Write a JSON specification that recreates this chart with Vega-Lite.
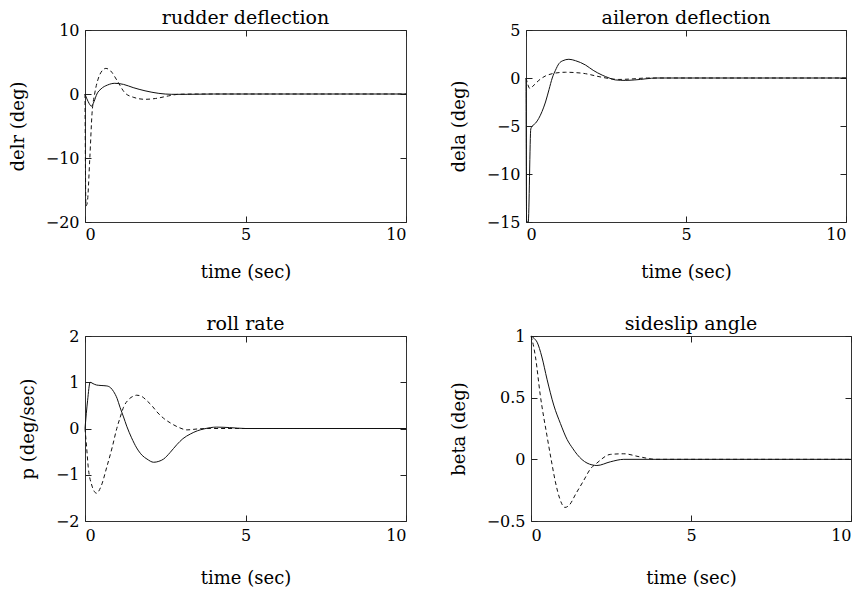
{
  "$schema": "https://vega.github.io/schema/vega-lite/v6.json",
  "background": "white",
  "padding": {"left": 8, "top": 8, "right": 5, "bottom": 0},
  "config": {
    "font": "DejaVu Serif",
    "view": {"stroke": "#333333", "strokeWidth": 1},
    "axis": {
      "grid": false,
      "domain": false,
      "tickSize": 6,
      "offset": -6,
      "tickColor": "#222222",
      "labelFont": "DejaVu Serif",
      "labelFontSize": 16,
      "labelColor": "black",
      "titleFont": "DejaVu Serif",
      "titleFontSize": 18,
      "titleFontWeight": "normal",
      "titleColor": "black"
    },
    "axisX": {"labelPadding": 4, "titlePadding": 21},
    "axisY": {"labelPadding": 6, "titlePadding": 18},
    "title": {"font": "DejaVu Serif", "fontSize": 19, "fontWeight": "normal", "color": "black", "offset": -6}
  },
  "datasets": {
    "d": [
      {"panel": "delr", "series": "a", "t": 0, "v": 0},
      {"panel": "delr", "series": "a", "t": 0.1, "v": -1.2},
      {"panel": "delr", "series": "a", "t": 0.2, "v": -1.9},
      {"panel": "delr", "series": "a", "t": 0.28, "v": -1.2},
      {"panel": "delr", "series": "a", "t": 0.37, "v": 0},
      {"panel": "delr", "series": "a", "t": 0.5, "v": 0.8},
      {"panel": "delr", "series": "a", "t": 0.7, "v": 1.4},
      {"panel": "delr", "series": "a", "t": 0.93, "v": 1.67},
      {"panel": "delr", "series": "a", "t": 1.2, "v": 1.5},
      {"panel": "delr", "series": "a", "t": 1.5, "v": 1.0},
      {"panel": "delr", "series": "a", "t": 1.87, "v": 0.5},
      {"panel": "delr", "series": "a", "t": 2.3, "v": 0.1},
      {"panel": "delr", "series": "a", "t": 2.7, "v": -0.05},
      {"panel": "delr", "series": "a", "t": 3.2, "v": -0.05},
      {"panel": "delr", "series": "a", "t": 4, "v": 0},
      {"panel": "delr", "series": "a", "t": 10, "v": 0},
      {"panel": "delr", "series": "b", "t": 0, "v": 0},
      {"panel": "delr", "series": "b", "t": 0.03, "v": -17.5},
      {"panel": "delr", "series": "b", "t": 0.07, "v": -17},
      {"panel": "delr", "series": "b", "t": 0.15, "v": -10},
      {"panel": "delr", "series": "b", "t": 0.22, "v": -3},
      {"panel": "delr", "series": "b", "t": 0.3, "v": 0},
      {"panel": "delr", "series": "b", "t": 0.4, "v": 2.2},
      {"panel": "delr", "series": "b", "t": 0.5, "v": 3.4},
      {"panel": "delr", "series": "b", "t": 0.65, "v": 4.0},
      {"panel": "delr", "series": "b", "t": 0.8, "v": 3.6},
      {"panel": "delr", "series": "b", "t": 1.0, "v": 2.1},
      {"panel": "delr", "series": "b", "t": 1.24, "v": 0.2},
      {"panel": "delr", "series": "b", "t": 1.5, "v": -0.5},
      {"panel": "delr", "series": "b", "t": 1.87, "v": -0.83},
      {"panel": "delr", "series": "b", "t": 2.2, "v": -0.7},
      {"panel": "delr", "series": "b", "t": 2.6, "v": -0.3},
      {"panel": "delr", "series": "b", "t": 2.9, "v": -0.05},
      {"panel": "delr", "series": "b", "t": 3.5, "v": 0},
      {"panel": "delr", "series": "b", "t": 10, "v": 0},

      {"panel": "dela", "series": "a", "t": 0, "v": 0},
      {"panel": "dela", "series": "a", "t": 0.02, "v": -15},
      {"panel": "dela", "series": "a", "t": 0.07, "v": -15},
      {"panel": "dela", "series": "a", "t": 0.15, "v": -5.3},
      {"panel": "dela", "series": "a", "t": 0.2, "v": -5},
      {"panel": "dela", "series": "a", "t": 0.3, "v": -4.7},
      {"panel": "dela", "series": "a", "t": 0.4, "v": -4.2},
      {"panel": "dela", "series": "a", "t": 0.5, "v": -3.5},
      {"panel": "dela", "series": "a", "t": 0.61, "v": -2.5},
      {"panel": "dela", "series": "a", "t": 0.72, "v": -1.2},
      {"panel": "dela", "series": "a", "t": 0.82, "v": 0},
      {"panel": "dela", "series": "a", "t": 0.92, "v": 0.8},
      {"panel": "dela", "series": "a", "t": 1.03, "v": 1.5},
      {"panel": "dela", "series": "a", "t": 1.15, "v": 1.8},
      {"panel": "dela", "series": "a", "t": 1.34, "v": 1.95},
      {"panel": "dela", "series": "a", "t": 1.55, "v": 1.8},
      {"panel": "dela", "series": "a", "t": 1.86, "v": 1.35},
      {"panel": "dela", "series": "a", "t": 2.1, "v": 0.8},
      {"panel": "dela", "series": "a", "t": 2.38, "v": 0.3},
      {"panel": "dela", "series": "a", "t": 2.6, "v": 0},
      {"panel": "dela", "series": "a", "t": 2.79, "v": -0.2},
      {"panel": "dela", "series": "a", "t": 3.1, "v": -0.25},
      {"panel": "dela", "series": "a", "t": 3.4, "v": -0.2},
      {"panel": "dela", "series": "a", "t": 4.1, "v": 0},
      {"panel": "dela", "series": "a", "t": 10, "v": 0},
      {"panel": "dela", "series": "b", "t": 0, "v": 0},
      {"panel": "dela", "series": "b", "t": 0.06, "v": -0.7},
      {"panel": "dela", "series": "b", "t": 0.12, "v": -1.1},
      {"panel": "dela", "series": "b", "t": 0.2, "v": -0.9},
      {"panel": "dela", "series": "b", "t": 0.4, "v": -0.25},
      {"panel": "dela", "series": "b", "t": 0.6, "v": 0.2},
      {"panel": "dela", "series": "b", "t": 0.82, "v": 0.45},
      {"panel": "dela", "series": "b", "t": 1.05, "v": 0.57},
      {"panel": "dela", "series": "b", "t": 1.24, "v": 0.6},
      {"panel": "dela", "series": "b", "t": 1.5, "v": 0.57},
      {"panel": "dela", "series": "b", "t": 1.86, "v": 0.45},
      {"panel": "dela", "series": "b", "t": 2.2, "v": 0.2},
      {"panel": "dela", "series": "b", "t": 2.5, "v": 0},
      {"panel": "dela", "series": "b", "t": 2.9, "v": -0.15},
      {"panel": "dela", "series": "b", "t": 3.3, "v": -0.1},
      {"panel": "dela", "series": "b", "t": 3.8, "v": 0},
      {"panel": "dela", "series": "b", "t": 10, "v": 0},

      {"panel": "p", "series": "a", "t": 0, "v": 0},
      {"panel": "p", "series": "a", "t": 0.08, "v": 0.6},
      {"panel": "p", "series": "a", "t": 0.16, "v": 1.0},
      {"panel": "p", "series": "a", "t": 0.25, "v": 0.97},
      {"panel": "p", "series": "a", "t": 0.36, "v": 0.94},
      {"panel": "p", "series": "a", "t": 0.5, "v": 0.93},
      {"panel": "p", "series": "a", "t": 0.68, "v": 0.92},
      {"panel": "p", "series": "a", "t": 0.8, "v": 0.88},
      {"panel": "p", "series": "a", "t": 0.89, "v": 0.8},
      {"panel": "p", "series": "a", "t": 1.0, "v": 0.65},
      {"panel": "p", "series": "a", "t": 1.09, "v": 0.46},
      {"panel": "p", "series": "a", "t": 1.2, "v": 0.25},
      {"panel": "p", "series": "a", "t": 1.3, "v": 0.05},
      {"panel": "p", "series": "a", "t": 1.45, "v": -0.2},
      {"panel": "p", "series": "a", "t": 1.61, "v": -0.42},
      {"panel": "p", "series": "a", "t": 1.78, "v": -0.58},
      {"panel": "p", "series": "a", "t": 1.93, "v": -0.66},
      {"panel": "p", "series": "a", "t": 2.14, "v": -0.73},
      {"panel": "p", "series": "a", "t": 2.3, "v": -0.71},
      {"panel": "p", "series": "a", "t": 2.45, "v": -0.66},
      {"panel": "p", "series": "a", "t": 2.65, "v": -0.52},
      {"panel": "p", "series": "a", "t": 2.86, "v": -0.35},
      {"panel": "p", "series": "a", "t": 3.05, "v": -0.22},
      {"panel": "p", "series": "a", "t": 3.28, "v": -0.12},
      {"panel": "p", "series": "a", "t": 3.5, "v": -0.05},
      {"panel": "p", "series": "a", "t": 3.7, "v": -0.01},
      {"panel": "p", "series": "a", "t": 4.1, "v": 0.03},
      {"panel": "p", "series": "a", "t": 4.5, "v": 0.02},
      {"panel": "p", "series": "a", "t": 5, "v": 0},
      {"panel": "p", "series": "a", "t": 10, "v": 0},
      {"panel": "p", "series": "b", "t": 0, "v": 0},
      {"panel": "p", "series": "b", "t": 0.05, "v": -0.4},
      {"panel": "p", "series": "b", "t": 0.1, "v": -0.83},
      {"panel": "p", "series": "b", "t": 0.2, "v": -1.2},
      {"panel": "p", "series": "b", "t": 0.36, "v": -1.4},
      {"panel": "p", "series": "b", "t": 0.5, "v": -1.25},
      {"panel": "p", "series": "b", "t": 0.68, "v": -0.83},
      {"panel": "p", "series": "b", "t": 0.85, "v": -0.4},
      {"panel": "p", "series": "b", "t": 0.99, "v": 0},
      {"panel": "p", "series": "b", "t": 1.1, "v": 0.25},
      {"panel": "p", "series": "b", "t": 1.2, "v": 0.46},
      {"panel": "p", "series": "b", "t": 1.35, "v": 0.62},
      {"panel": "p", "series": "b", "t": 1.51, "v": 0.7},
      {"panel": "p", "series": "b", "t": 1.61, "v": 0.72},
      {"panel": "p", "series": "b", "t": 1.75, "v": 0.7},
      {"panel": "p", "series": "b", "t": 1.93, "v": 0.6},
      {"panel": "p", "series": "b", "t": 2.1, "v": 0.48},
      {"panel": "p", "series": "b", "t": 2.24, "v": 0.36},
      {"panel": "p", "series": "b", "t": 2.45, "v": 0.22},
      {"panel": "p", "series": "b", "t": 2.66, "v": 0.12},
      {"panel": "p", "series": "b", "t": 2.9, "v": 0.03},
      {"panel": "p", "series": "b", "t": 3.18, "v": -0.03},
      {"panel": "p", "series": "b", "t": 3.5, "v": -0.01},
      {"panel": "p", "series": "b", "t": 3.9, "v": 0},
      {"panel": "p", "series": "b", "t": 10, "v": 0},

      {"panel": "beta", "series": "a", "t": 0, "v": 1},
      {"panel": "beta", "series": "a", "t": 0.1, "v": 0.98},
      {"panel": "beta", "series": "a", "t": 0.19, "v": 0.95},
      {"panel": "beta", "series": "a", "t": 0.34, "v": 0.83},
      {"panel": "beta", "series": "a", "t": 0.5, "v": 0.65},
      {"panel": "beta", "series": "a", "t": 0.71, "v": 0.44},
      {"panel": "beta", "series": "a", "t": 0.92, "v": 0.29},
      {"panel": "beta", "series": "a", "t": 1.13, "v": 0.16},
      {"panel": "beta", "series": "a", "t": 1.3, "v": 0.09},
      {"panel": "beta", "series": "a", "t": 1.44, "v": 0.04},
      {"panel": "beta", "series": "a", "t": 1.75, "v": -0.03},
      {"panel": "beta", "series": "a", "t": 2.06, "v": -0.05},
      {"panel": "beta", "series": "a", "t": 2.48, "v": -0.02},
      {"panel": "beta", "series": "a", "t": 2.9, "v": 0},
      {"panel": "beta", "series": "a", "t": 10, "v": 0},
      {"panel": "beta", "series": "b", "t": 0, "v": 1},
      {"panel": "beta", "series": "b", "t": 0.07, "v": 0.93},
      {"panel": "beta", "series": "b", "t": 0.14, "v": 0.83},
      {"panel": "beta", "series": "b", "t": 0.29, "v": 0.52},
      {"panel": "beta", "series": "b", "t": 0.5, "v": 0.19},
      {"panel": "beta", "series": "b", "t": 0.65, "v": -0.03},
      {"panel": "beta", "series": "b", "t": 0.76, "v": -0.18},
      {"panel": "beta", "series": "b", "t": 0.9, "v": -0.32},
      {"panel": "beta", "series": "b", "t": 1.06, "v": -0.39},
      {"panel": "beta", "series": "b", "t": 1.2, "v": -0.37},
      {"panel": "beta", "series": "b", "t": 1.4, "v": -0.28},
      {"panel": "beta", "series": "b", "t": 1.65, "v": -0.17},
      {"panel": "beta", "series": "b", "t": 1.85, "v": -0.08},
      {"panel": "beta", "series": "b", "t": 2.06, "v": -0.03},
      {"panel": "beta", "series": "b", "t": 2.48, "v": 0.04},
      {"panel": "beta", "series": "b", "t": 2.9, "v": 0.045},
      {"panel": "beta", "series": "b", "t": 3.4, "v": 0.02},
      {"panel": "beta", "series": "b", "t": 3.9, "v": 0},
      {"panel": "beta", "series": "b", "t": 10, "v": 0}
    ]
  },
  "vconcat": [
    {
      "hconcat": [
        {
          "title": "rudder deflection",
          "width": 321, "height": 192,
          "data": {"name": "d"},
          "transform": [{"filter": "datum.panel === 'delr'"}],
          "layer": [
            {
              "transform": [{"filter": "datum.series === 'a'"}],
              "mark": {"type": "line", "color": "#111111", "strokeWidth": 1, "interpolate": "monotone"},
              "encoding": {
                "x": {"field": "t", "type": "quantitative", "scale": {"domain": [0, 10], "nice": false}, "axis": {"values": [0, 5, 10], "title": "time (sec)", "orient": "bottom"}},
                "y": {"field": "v", "type": "quantitative", "scale": {"domain": [-20, 10], "nice": false}, "axis": {"values": [-20, -10, 0, 10], "title": "delr (deg)", "orient": "left"}}
              }
            },
            {
              "transform": [{"filter": "datum.series === 'b'"}],
              "mark": {"type": "line", "color": "#111111", "strokeWidth": 1, "strokeDash": [4, 3], "interpolate": "monotone"},
              "encoding": {
                "x": {"field": "t", "type": "quantitative", "axis": {"values": [0, 5, 10], "title": null, "labels": false, "orient": "top"}},
                "y": {"field": "v", "type": "quantitative", "axis": {"values": [-20, -10, 0, 10], "title": null, "labels": false, "orient": "right"}}
              }
            }
          ],
          "resolve": {"axis": {"x": "independent", "y": "independent"}}
        },
        {
          "title": "aileron deflection",
          "width": 320, "height": 192,
          "data": {"name": "d"},
          "transform": [{"filter": "datum.panel === 'dela'"}],
          "layer": [
            {
              "transform": [{"filter": "datum.series === 'a'"}],
              "mark": {"type": "line", "color": "#111111", "strokeWidth": 1, "interpolate": "monotone"},
              "encoding": {
                "x": {"field": "t", "type": "quantitative", "scale": {"domain": [0, 10], "nice": false}, "axis": {"values": [0, 5, 10], "title": "time (sec)", "orient": "bottom"}},
                "y": {"field": "v", "type": "quantitative", "scale": {"domain": [-15, 5], "nice": false}, "axis": {"values": [-15, -10, -5, 0, 5], "title": "dela (deg)", "orient": "left"}}
              }
            },
            {
              "transform": [{"filter": "datum.series === 'b'"}],
              "mark": {"type": "line", "color": "#111111", "strokeWidth": 1, "strokeDash": [4, 3], "interpolate": "monotone"},
              "encoding": {
                "x": {"field": "t", "type": "quantitative", "axis": {"values": [0, 5, 10], "title": null, "labels": false, "orient": "top"}},
                "y": {"field": "v", "type": "quantitative", "axis": {"values": [-15, -10, -5, 0, 5], "title": null, "labels": false, "orient": "right"}}
              }
            }
          ],
          "resolve": {"axis": {"x": "independent", "y": "independent"}}
        }
      ],
      "spacing": 40
    },
    {
      "hconcat": [
        {
          "title": "roll rate",
          "width": 321, "height": 185,
          "data": {"name": "d"},
          "transform": [{"filter": "datum.panel === 'p'"}],
          "layer": [
            {
              "transform": [{"filter": "datum.series === 'a'"}],
              "mark": {"type": "line", "color": "#111111", "strokeWidth": 1, "interpolate": "monotone"},
              "encoding": {
                "x": {"field": "t", "type": "quantitative", "scale": {"domain": [0, 10], "nice": false}, "axis": {"values": [0, 5, 10], "title": "time (sec)", "orient": "bottom", "labelPadding": 6, "titlePadding": 26}},
                "y": {"field": "v", "type": "quantitative", "scale": {"domain": [-2, 2], "nice": false}, "axis": {"values": [-2, -1, 0, 1, 2], "title": "p (deg/sec)", "orient": "left"}}
              }
            },
            {
              "transform": [{"filter": "datum.series === 'b'"}],
              "mark": {"type": "line", "color": "#111111", "strokeWidth": 1, "strokeDash": [4, 3], "interpolate": "monotone"},
              "encoding": {
                "x": {"field": "t", "type": "quantitative", "axis": {"values": [0, 5, 10], "title": null, "labels": false, "orient": "top"}},
                "y": {"field": "v", "type": "quantitative", "axis": {"values": [-2, -1, 0, 1, 2], "title": null, "labels": false, "orient": "right"}}
              }
            }
          ],
          "resolve": {"axis": {"x": "independent", "y": "independent"}}
        },
        {
          "title": "sideslip angle",
          "width": 320, "height": 185,
          "data": {"name": "d"},
          "transform": [{"filter": "datum.panel === 'beta'"}],
          "layer": [
            {
              "transform": [{"filter": "datum.series === 'a'"}],
              "mark": {"type": "line", "color": "#111111", "strokeWidth": 1, "interpolate": "monotone"},
              "encoding": {
                "x": {"field": "t", "type": "quantitative", "scale": {"domain": [0, 10], "nice": false}, "axis": {"values": [0, 5, 10], "title": "time (sec)", "orient": "bottom", "labelPadding": 6, "titlePadding": 26}},
                "y": {"field": "v", "type": "quantitative", "scale": {"domain": [-0.5, 1], "nice": false}, "axis": {"values": [-0.5, 0, 0.5, 1], "format": "~g", "title": "beta (deg)", "orient": "left"}}
              }
            },
            {
              "transform": [{"filter": "datum.series === 'b'"}],
              "mark": {"type": "line", "color": "#111111", "strokeWidth": 1, "strokeDash": [4, 3], "interpolate": "monotone"},
              "encoding": {
                "x": {"field": "t", "type": "quantitative", "axis": {"values": [0, 5, 10], "title": null, "labels": false, "orient": "top"}},
                "y": {"field": "v", "type": "quantitative", "axis": {"values": [-0.5, 0, 0.5, 1], "title": null, "labels": false, "orient": "right"}}
              }
            }
          ],
          "resolve": {"axis": {"x": "independent", "y": "independent"}}
        }
      ],
      "spacing": 40
    }
  ],
  "spacing": 32
}
